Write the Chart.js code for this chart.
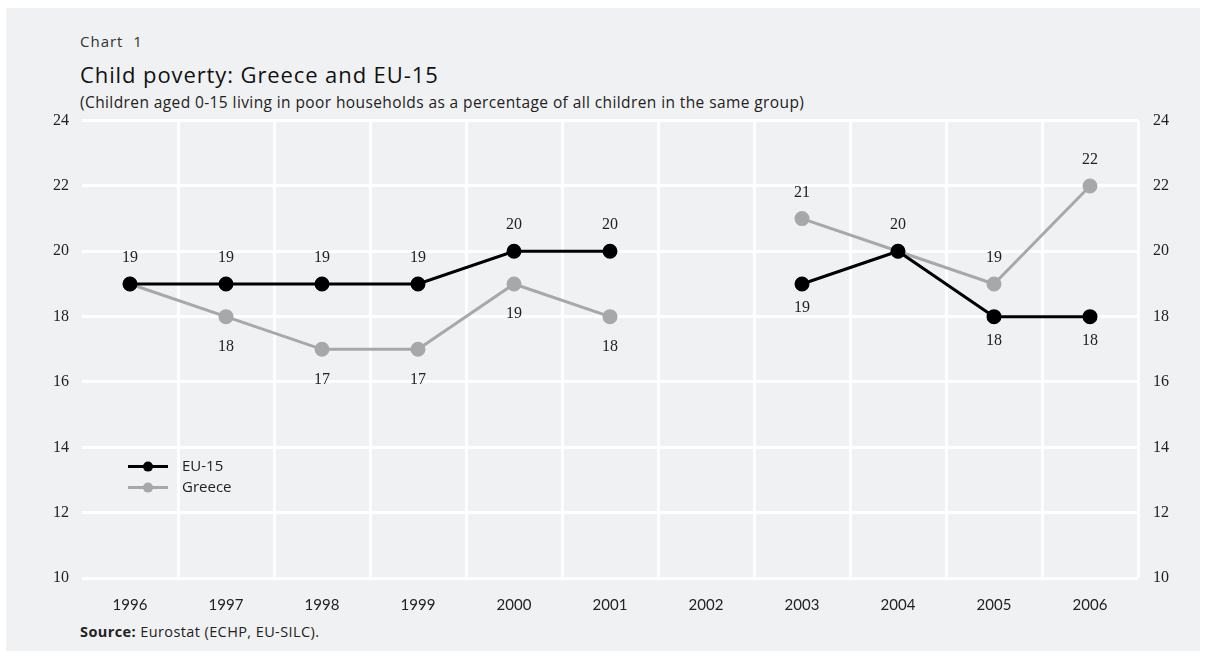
<!DOCTYPE html>
<html>
<head>
<meta charset="utf-8">
<script src="https://cdn.jsdelivr.net/npm/chart.js@4"></script>
<style>
  body { margin: 0; background: #fff; font-family: "Open Sans", sans-serif; color: #222; }
  #panel { position: absolute; left: 6px; top: 8px; width: 1194px; height: 643px; background: #f0f1f3; }
  .txt { position: absolute; left: 80px; white-space: nowrap; }
  #kicker { top: 31px; font-size: 15px; letter-spacing: 1px; color: #333; }
  #title { top: 59px; font-size: 22px; letter-spacing: 0.9px; color: #111; }
  #sub { top: 91px; font-size: 15.5px; letter-spacing: 0.4px; color: #222; }
  #source { top: 622px; font-size: 14.5px; letter-spacing: 0.4px; color: #222; }
  #wrap { position: absolute; left: 0; top: 96px; width: 1206px; height: 524px; }
</style>
</head>
<body>
<div id="panel"></div>
<div class="txt" id="kicker">Chart&nbsp;&nbsp;1</div>
<div class="txt" id="title">Child poverty: Greece and EU-15</div>
<div class="txt" id="sub">(Children aged 0-15 living in poor households as a percentage of all children in the same group)</div>
<div class="txt" id="source"><b>Source:</b> Eurostat (ECHP, EU-SILC).</div>
<div id="wrap"><canvas id="chart"></canvas></div>
<script>
const years = ["1996", "1997", "1998", "1999", "2000", "2001", "2002", "2003", "2004", "2005", "2006"];
const eu15 = [19, 19, 19, 19, 20, 20, null, 19, 20, 18, 18];
const greece = [19, 18, 17, 17, 19, 18, null, 21, 20, 19, 22];
const yTicks = [10, 12, 14, 16, 18, 20, 22, 24];

const EU_COLOR = "#000000";
const GR_COLOR = "#a7a8aa";

// value labels: the higher series goes above, the lower one below; shared points get one label
const valueLabels = {
  id: "valueLabels",
  afterDatasetsDraw(chart) {
    const ctx = chart.ctx;
    ctx.save();
    ctx.font = "16px 'Liberation Serif', serif";
    ctx.fillStyle = "#222";
    ctx.textAlign = "center";
    ctx.textBaseline = "middle";
    const metaEU = chart.getDatasetMeta(0);
    const metaGR = chart.getDatasetMeta(1);
    years.forEach((y, i) => {
      const a = eu15[i], b = greece[i];
      if (a == null) return;
      const pa = metaEU.data[i], pb = metaGR.data[i];
      if (a === b) {
        ctx.fillText(a, pa.x, pa.y - 26);
        return;
      }
      if (a > b) {
        ctx.fillText(a, pa.x, pa.y - 26);
        ctx.fillText(b, pb.x, pb.y + 30);
      } else {
        ctx.fillText(a, pa.x, pa.y + 24);
        ctx.fillText(b, pb.x, pb.y - 26);
      }
    });
    ctx.restore();
  }
};

// legend drawn inside the plot, lower left
const innerLegend = {
  id: "innerLegend",
  afterDraw(chart) {
    const ctx = chart.ctx;
    const area = chart.chartArea;
    const x0 = area.left + 46, y0 = area.top + 346;
    ctx.save();
    ctx.font = "15px 'Open Sans', sans-serif";
    ctx.textBaseline = "middle";
    chart.data.datasets.forEach((ds, k) => {
      const y = y0 + k * 21;
      ctx.strokeStyle = ds.borderColor;
      ctx.lineWidth = 3;
      ctx.beginPath();
      ctx.moveTo(x0, y);
      ctx.lineTo(x0 + 40, y);
      ctx.stroke();
      ctx.fillStyle = ds.backgroundColor;
      ctx.beginPath();
      ctx.arc(x0 + 20, y, 5, 0, Math.PI * 2);
      ctx.fill();
      ctx.fillStyle = "#222";
      ctx.fillText(ds.label, x0 + 54, y);
    });
    ctx.restore();
  }
};

new Chart(document.getElementById("chart").getContext("2d"), {
  type: "line",
  data: {
    labels: years,
    datasets: [
      {
        label: "EU-15",
        data: eu15,
        borderColor: EU_COLOR,
        backgroundColor: EU_COLOR,
        borderWidth: 3,
        pointRadius: 6,
        pointHoverRadius: 6,
        spanGaps: false,
      },
      {
        label: "Greece",
        data: greece,
        borderColor: GR_COLOR,
        backgroundColor: GR_COLOR,
        borderWidth: 3,
        pointRadius: 6,
        pointHoverRadius: 6,
        spanGaps: false,
      },
    ],
  },
  options: {
    responsive: true,
    maintainAspectRatio: false,
    animation: false,
    layout: { padding: { top: 10, left: 0, right: 0, bottom: 0 } },
    plugins: {
      legend: { display: false },
      tooltip: { enabled: false },
    },
    scales: {
      x: {
        offset: true,
        grid: {
          offset: true,
          color: (c) => (c.index === 0 ? "rgba(0,0,0,0)" : "#ffffff"),
          lineWidth: 3,
          drawTicks: false,
        },
        border: { display: false },
        ticks: { color: "#222", font: { family: "Lato", size: 15 }, padding: 18 },
        afterFit: (s) => { s.height = 42; },
      },
      y: {
        position: "left",
        min: 10,
        max: 24,
        afterBuildTicks: (s) => { s.ticks = yTicks.map((v) => ({ value: v })); },
        grid: { color: "#ffffff", lineWidth: 3, drawTicks: false },
        border: { display: false },
        ticks: { color: "#222", font: { family: "Liberation Serif", size: 16 }, padding: 13 },
        afterFit: (s) => { s.width = 82; },
      },
      y2: {
        position: "right",
        min: 10,
        max: 24,
        afterBuildTicks: (s) => { s.ticks = yTicks.map((v) => ({ value: v })); },
        grid: { display: false, drawTicks: false },
        border: { display: false },
        ticks: { color: "#222", font: { family: "Liberation Serif", size: 16 }, padding: 15 },
        afterFit: (s) => { s.width = 68; },
      },
    },
  },
  plugins: [valueLabels, innerLegend],
});
</script>
</body>
</html>
